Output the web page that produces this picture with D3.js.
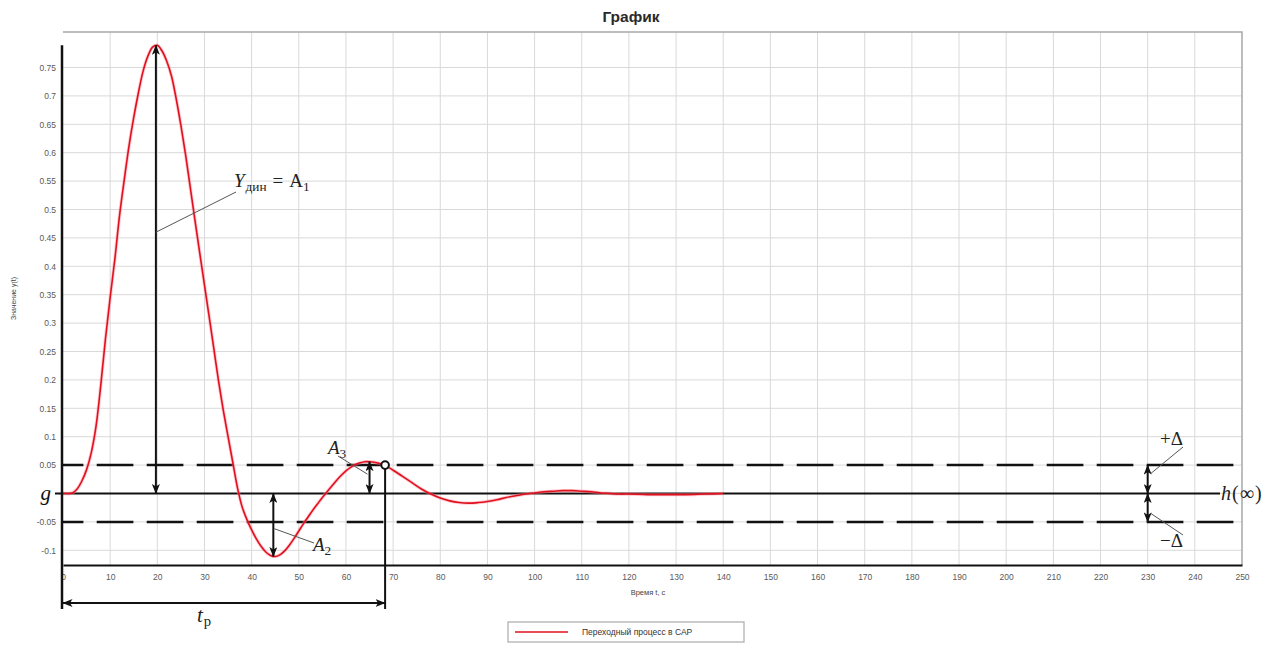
<!DOCTYPE html>
<html>
<head>
<meta charset="utf-8">
<script src="https://cdn.jsdelivr.net/npm/d3@7"></script>
<style>
  body { margin: 0; background: #fff; }
  svg { display: block; }
</style>
</head>
<body>
<svg id="chart" width="1273" height="648"></svg>
<script>
// Transient response of the control system, y(t)
const times = [0,1,2,3,4,5,6,7,8,9,10,11,12,13,14,15,16,17,18,19,20,21,22,23,24,25,26,27,28,29,30,
  31,32,33,34,35,36,37,38,39,40,41,42,43,44,45,46,47,48,49,50,51,52,53,54,55,56,57,58,59,60,
  61,62,63,64,65,66,67,68,69,70,72,74,76,78,80,82,84,86,88,90,92,94,96,98,100,102,104,106,108,
  110,112,114,116,118,120,124,128,132,136,140];
const response = [0,0,0.001,0.008,0.022,0.042,0.072,0.118,0.19,0.272,0.345,0.413,0.49,0.553,0.612,
  0.662,0.706,0.744,0.77,0.786,0.789,0.779,0.761,0.735,0.695,0.648,0.596,0.538,0.48,0.423,0.367,
  0.311,0.254,0.197,0.146,0.1,0.055,0.01,-0.024,-0.046,-0.064,-0.08,-0.093,-0.103,-0.109,-0.111,
  -0.108,-0.101,-0.091,-0.079,-0.066,-0.053,-0.041,-0.029,-0.018,-0.007,0.003,0.013,0.023,0.032,0.04,
  0.046,0.051,0.054,0.056,0.056,0.055,0.053,0.05,0.046,0.041,0.03,0.019,0.008,-0.001,-0.008,-0.013,
  -0.016,-0.017,-0.016,-0.014,-0.011,-0.007,-0.004,-0.001,0.001,0.003,0.004,0.005,0.005,
  0.004,0.003,0.001,0,-0.001,-0.001,-0.002,-0.002,-0.002,-0.001,0];

const xTicks = [0,10,20,30,40,50,60,70,80,90,100,110,120,130,140,150,160,170,180,190,200,210,220,230,240,250];
const yTicks = [-0.1,-0.05,0,0.05,0.1,0.15,0.2,0.25,0.3,0.35,0.4,0.45,0.5,0.55,0.6,0.65,0.7,0.75];

// Characteristic points of the process
const steadyValue = 0;          // h(∞)
const tolerance = 0.05;         // ±Δ
const firstPeak = [19.7, 0.789];   // A1 = Y_дин
const firstTrough = [44.6, -0.111]; // A2
const secondPeak = [65, 0.056];     // A3
const settlingTime = 68.3;          // t_p
const deltaMarkTime = 230;

const svg = d3.select("#chart");
const plotLeft = 63, plotRight = 1242, plotTop = 32, plotBottom = 565;

const x = d3.scaleLinear().domain([0, 250]).range([plotLeft, plotRight]);
const y = d3.scaleLinear().domain([-0.1259, 0.8125]).range([plotBottom, plotTop]);

// arrow head
const defs = svg.append("defs");
defs.append("marker")
  .attr("id", "head")
  .attr("viewBox", "0 0 10 8")
  .attr("refX", 9.5).attr("refY", 4)
  .attr("markerUnits", "userSpaceOnUse")
  .attr("markerWidth", 10).attr("markerHeight", 8)
  .attr("orient", "auto-start-reverse")
  .append("path")
  .attr("d", "M0,0 L10,4 L0,8 L2.5,4 Z")
  .attr("fill", "#111");

// title
svg.append("text")
  .attr("x", 631).attr("y", 22)
  .attr("text-anchor", "middle")
  .attr("font-family", "Liberation Sans, Arial, sans-serif")
  .attr("font-weight", "bold")
  .attr("font-size", 15.5)
  .attr("fill", "#2a2a2a")
  .text("График");

// grid
const grid = svg.append("g");
grid.selectAll("line.v").data(xTicks.filter(d => d > 0 && d < 250)).join("line")
  .attr("class", "v")
  .attr("x1", d => x(d)).attr("x2", d => x(d))
  .attr("y1", plotTop).attr("y2", plotBottom)
  .attr("stroke", "#d9d9d9").attr("stroke-width", 1);
grid.selectAll("line.h").data(yTicks).join("line")
  .attr("class", "h")
  .attr("x1", plotLeft).attr("x2", plotRight)
  .attr("y1", d => y(d)).attr("y2", d => y(d))
  .attr("stroke", "#d9d9d9").attr("stroke-width", 1);

// plot frame (top and right)
svg.append("path")
  .attr("d", `M${plotLeft},${plotTop}H${plotRight}V${plotBottom}`)
  .attr("fill", "none").attr("stroke", "#a8a8a8").attr("stroke-width", 1.5);

// axes
const fmt = d => d === 0 ? "g" : String(+d.toFixed(2));
const yAxis = svg.append("g")
  .attr("transform", `translate(${plotLeft},0)`)
  .call(d3.axisLeft(y).tickValues(yTicks).tickSize(0).tickPadding(7).tickFormat(fmt));
yAxis.select(".domain").remove();
yAxis.selectAll("text")
  .attr("font-family", "Liberation Sans, Arial, sans-serif")
  .attr("font-size", 8.5).attr("fill", "#5a5a5a");
yAxis.selectAll(".tick").filter(d => d === 0).select("text")
  .attr("font-family", "Liberation Serif, serif")
  .attr("font-style", "italic").attr("font-size", 21).attr("fill", "#111")
  .attr("x", -12).attr("dy", "0.28em");

const xAxis = svg.append("g")
  .attr("transform", `translate(0,${plotBottom})`)
  .call(d3.axisBottom(x).tickValues(xTicks).tickSize(0).tickPadding(9));
xAxis.select(".domain").attr("stroke", "#111").attr("stroke-width", 2);
xAxis.selectAll("text")
  .attr("font-family", "Liberation Sans, Arial, sans-serif")
  .attr("font-size", 8.5).attr("fill", "#5a5a5a");

// axis titles
svg.append("text")
  .attr("x", 648).attr("y", 595)
  .attr("text-anchor", "middle")
  .attr("font-family", "Liberation Sans, Arial, sans-serif")
  .attr("font-size", 7.5).attr("fill", "#444")
  .text("Время t, с");
svg.append("text")
  .attr("transform", `translate(16,${(plotTop + plotBottom) / 2}) rotate(-90)`)
  .attr("text-anchor", "middle")
  .attr("font-family", "Liberation Sans, Arial, sans-serif")
  .attr("font-size", 7).attr("fill", "#444")
  .text("Значение y(t)");

// tolerance band ±Δ and steady state h(∞)
const ann = svg.append("g").attr("stroke", "#111").attr("fill", "none");
[tolerance, -tolerance].forEach(v => {
  ann.append("line")
    .attr("x1", plotLeft).attr("x2", plotRight)
    .attr("y1", y(v)).attr("y2", y(v))
    .attr("stroke-width", 2.5)
    .attr("stroke-dasharray", "36.7,13.3")
    .attr("stroke-dashoffset", 16.3);
});
ann.append("line")
  .attr("x1", plotLeft - 8).attr("x2", 1220)
  .attr("y1", y(steadyValue)).attr("y2", y(steadyValue))
  .attr("stroke-width", 2);

// response curve
const pts = times.map((t, i) => [t, response[i]]);
const line = d3.line().x(d => x(d[0])).y(d => y(d[1])).curve(d3.curveCatmullRom.alpha(0.5));
svg.append("path").datum(pts)
  .attr("d", line).attr("fill", "none")
  .attr("stroke", "#ff8a9a").attr("stroke-opacity", 0.45).attr("stroke-width", 3.4);
svg.append("path").datum(pts)
  .attr("d", line).attr("fill", "none")
  .attr("stroke", "#e0101e").attr("stroke-width", 1.6);

// annotation lines & arrows
const arrows = svg.append("g").attr("stroke", "#111").attr("stroke-width", 2).attr("fill", "none");
const tpY = 603;
function arrow(x1, y1, x2, y2) {
  arrows.append("line")
    .attr("x1", x1).attr("y1", y1).attr("x2", x2).attr("y2", y2)
    .attr("marker-start", "url(#head)").attr("marker-end", "url(#head)");
}
// left boundary of t_p and settling boundary
arrows.append("line")
  .attr("x1", x(0) - 1).attr("x2", x(0) - 1)
  .attr("y1", y(firstPeak[1])).attr("y2", tpY + 6)
  .attr("stroke-width", 2.5);
arrows.append("line")
  .attr("x1", x(settlingTime)).attr("x2", x(settlingTime))
  .attr("y1", y(tolerance)).attr("y2", tpY + 6)
  .attr("stroke-width", 2);
arrow(x(0), tpY, x(settlingTime), tpY);
arrow(x(firstPeak[0]), y(steadyValue), x(firstPeak[0]), y(firstPeak[1]));
arrow(x(firstTrough[0]), y(steadyValue), x(firstTrough[0]), y(firstTrough[1]));
arrow(x(secondPeak[0]), y(secondPeak[1]), x(secondPeak[0]), y(steadyValue));
arrow(x(deltaMarkTime), y(tolerance), x(deltaMarkTime), y(steadyValue));
arrow(x(deltaMarkTime), y(steadyValue), x(deltaMarkTime), y(-tolerance));

svg.append("circle")
  .attr("cx", x(settlingTime)).attr("cy", y(tolerance)).attr("r", 3.8)
  .attr("fill", "#fff").attr("stroke", "#111").attr("stroke-width", 2);

// leader lines to labels
const leaders = svg.append("g").attr("stroke", "#555").attr("stroke-width", 1);
const leaderData = [
  [x(firstPeak[0]), y(0.46), 236, 192],
  [x(firstTrough[0]) + 1, y(-0.062), 314, 543],
  [338, 456, x(secondPeak[0]) - 2, y(0.034)],
  [x(deltaMarkTime) + 3, y(0.035), 1183, 447],
  [x(deltaMarkTime) + 3, y(-0.035), 1183, 535]
];
leaders.selectAll("line").data(leaderData).join("line")
  .attr("x1", d => d[0]).attr("y1", d => d[1])
  .attr("x2", d => d[2]).attr("y2", d => d[3]);

// math labels
const serif = "Liberation Serif, DejaVu Serif, serif";
function mathLabel(px, py, parts, size = 19) {
  const t = svg.append("text").attr("x", px).attr("y", py)
    .attr("font-family", serif).attr("font-size", size).attr("fill", "#222");
  parts.forEach(p => {
    const s = t.append("tspan").text(p.text);
    if (p.italic) s.attr("font-style", "italic");
    if (p.sub) s.attr("font-size", size * 0.7).attr("dy", 4);
    if (p.up) s.attr("dy", -4);
    if (p.dx) s.attr("dx", p.dx);
  });
  return t;
}
mathLabel(234, 187, [{text: "Y", italic: true}, {text: "дин", sub: true, dx: 1},
  {text: "=", up: true, dx: 6}, {text: "A", dx: 6}, {text: "1", sub: true}]);
mathLabel(313, 551, [{text: "A", italic: true}, {text: "2", sub: true}]);
mathLabel(328, 454, [{text: "A", italic: true}, {text: "3", sub: true}]);
mathLabel(197, 622, [{text: "t", italic: true}, {text: "p", sub: true, dx: 1}], 21);
mathLabel(1160, 445, [{text: "+Δ"}]);
mathLabel(1160, 547, [{text: "−Δ"}]);
mathLabel(1221, 500, [{text: "h", italic: true}, {text: "(", dx: 1}, {text: "∞", dx: 1}, {text: ")", dx: 1}], 20);

// legend
const lg = svg.append("g");
lg.append("rect")
  .attr("x", 508).attr("y", 622).attr("width", 236).attr("height", 20)
  .attr("fill", "#fff").attr("stroke", "#aaa").attr("stroke-width", 1.2);
lg.append("line")
  .attr("x1", 515).attr("x2", 568).attr("y1", 632).attr("y2", 632)
  .attr("stroke", "#e0101e").attr("stroke-width", 1.6);
lg.append("text")
  .attr("x", 582).attr("y", 635)
  .attr("font-family", "Liberation Sans, Arial, sans-serif")
  .attr("font-size", 8.5).attr("fill", "#333")
  .text("Переходный процесс в САР");
</script>
</body>
</html>
